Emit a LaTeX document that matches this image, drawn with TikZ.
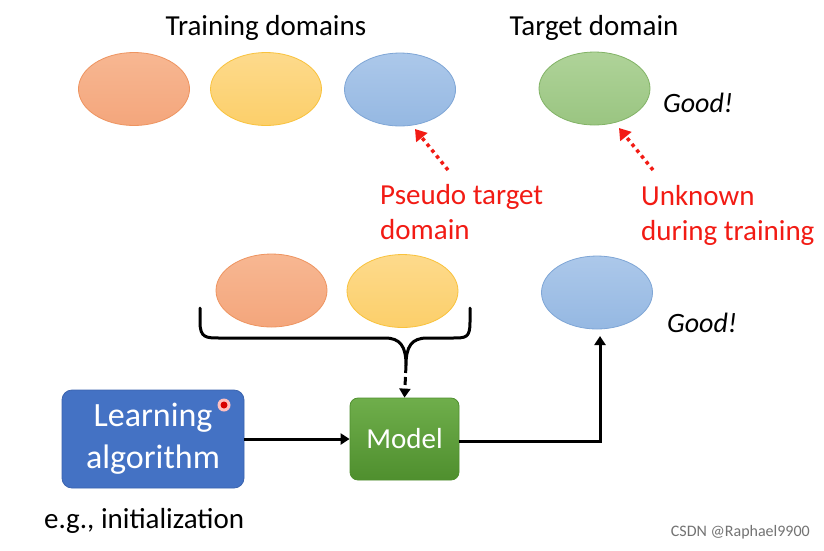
\documentclass[tikz,border=0pt]{standalone}
\usepackage{fontspec}
\setmainfont{Carlito}
\usetikzlibrary{shapes.geometric,arrows.meta}
\definecolor{orF}{HTML}{F7B792}\definecolor{orD}{HTML}{F4A67C}\definecolor{orB}{HTML}{EE9460}
\definecolor{yeF}{HTML}{FDDA8C}\definecolor{yeD}{HTML}{FCCF6A}\definecolor{yeB}{HTML}{F9C23C}
\definecolor{blF}{HTML}{ACC8EA}\definecolor{blD}{HTML}{95B8E2}\definecolor{blB}{HTML}{7FA6D6}
\definecolor{grF}{HTML}{AFD399}\definecolor{grD}{HTML}{9AC581}\definecolor{grB}{HTML}{82B366}
\definecolor{pptred}{HTML}{F21B14}
\definecolor{algblue}{HTML}{4472C4}\definecolor{algborder}{HTML}{3A63AE}
\definecolor{modtop}{HTML}{6FAE4B}\definecolor{modbot}{HTML}{4F8F2E}
\tikzset{
  dom/.style={ellipse,minimum width=111pt,minimum height=73pt,inner sep=0pt,line width=0.8pt},
  domor/.style={dom,draw=orB,top color=orF,bottom color=orD},
  domye/.style={dom,draw=yeB,top color=yeF,bottom color=yeD},
  dombl/.style={dom,draw=blB,top color=blF,bottom color=blD},
  domgr/.style={dom,draw=grB,top color=grF,bottom color=grD},
  lbl/.style={font=\fontsize{29}{35}\selectfont,inner sep=0pt},
  redlbl/.style={lbl,text=pptred,align=left,anchor=west},
  good/.style={font=\fontsize{28}{32}\selectfont\itshape,inner sep=0pt,anchor=west},
  redarrow/.style={pptred,line width=3.5pt,dash pattern=on 3.5pt off 4pt,-{Triangle[width=14pt,length=11pt]}},
  blackarrow/.style={black,line width=3pt,-{Triangle[width=11pt,length=9pt]}},
}
\begin{document}
\begin{tikzpicture}[x=1pt,y=-1pt]
\useasboundingbox (0,0) rectangle (824,550);
\fill[white] (0,0) rectangle (824,550);
% headers
\node[lbl] (traintitle) at (266,28) {Training domains};
\node[lbl] (targettitle) at (594,28) {Target domain};
% top row
\node[domor] (o1) at (134,89) {};
\node[domye] (y1) at (266,89) {};
\node[dombl] (b1) at (400,89.5) {};
\node[domgr] (g1) at (594.5,88.5) {};
\node[good] (good1) at (663,103) {Good!};
% red labels
\node[redlbl] (pseudo) at (380,212) {Pseudo target\\domain};
\node[redlbl] (unknown) at (641,215) {Unknown\\during training};
\coordinate (pt1) at (448,170);
\coordinate (pt2) at (653,170);
\draw[redarrow] (pt1) -- (415,129);
\draw[redarrow] (pt2) -- (619,128);
% middle row
\node[domor] (o2) at (271.5,290.5) {};
\node[domye] (y2) at (402.5,291) {};
\node[dombl] (b2) at (597,292.5) {};
\node[good] (good2) at (667,323) {Good!};
% brace
\coordinate (bracetip) at (406,365);
\draw[black,line width=3pt,line cap=round,line join=round]
  (200,308) -- (200,322) .. controls (200,338) and (206,338) .. (220,338) -- (385,338)
  .. controls (400,338) and (406,346) .. (bracetip)
  .. controls (406,346) and (412,338) .. (427,338) -- (452,338)
  .. controls (466,338) and (470,338) .. (470,322) -- (470,308);
% boxes
\node[draw=algborder,line width=0.8pt,fill=algblue,rounded corners=10pt,minimum width=182pt,minimum height=98pt,
      text=white,align=center,font=\fontsize{34}{42}\selectfont,inner sep=0pt] (alg) at (153,439) {Learning\\algorithm};
\fill[red!25] (224,405) circle (6.5pt);
\fill[red!85!black] (224,405) circle (3.5pt);
\node[draw=modbot,line width=0.8pt,top color=modtop,bottom color=modbot,rounded corners=8pt,minimum width=109pt,minimum height=82pt,
      text=white,font=\fontsize{29}{35}\selectfont,inner sep=0pt] (model) at (404.5,439) {Model};
\node[lbl,anchor=west] (eg) at (44,521) {e.g., initialization};
% arrows
\draw[blackarrow,dash pattern=on 8pt off 4pt] (bracetip) -- (model.north);
\draw[blackarrow] (alg.east) -- (model.west);
\coordinate (turn) at (600,441);
\draw[blackarrow] (model.east |- turn) -- (turn) -- (600,336);
% watermark
\node[font=\fontsize{16}{18}\selectfont,text=black!55,anchor=east,inner sep=0pt] (wm) at (810,532) {CSDN @Raphael9900};
\end{tikzpicture}
\end{document}
